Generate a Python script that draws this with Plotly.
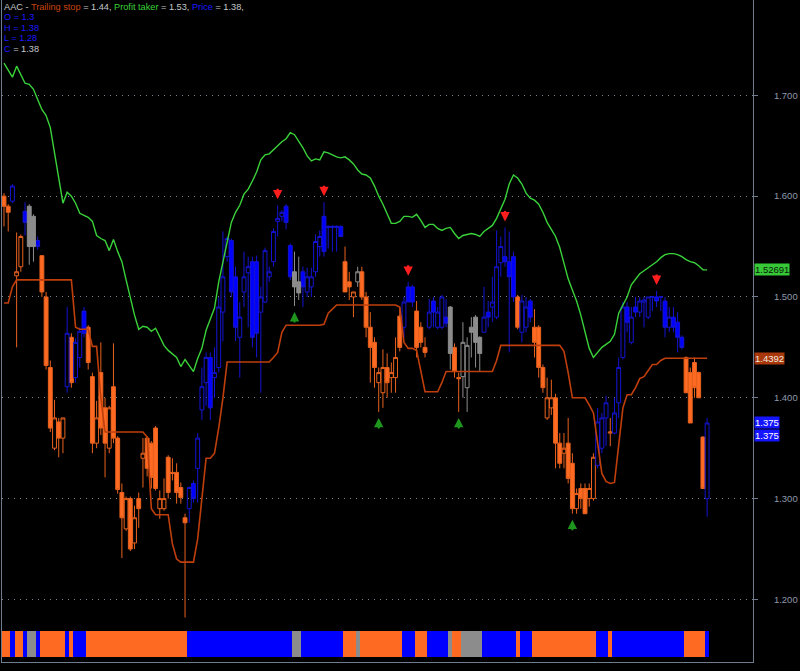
import plotly.graph_objects as go

# ---------------- data ----------------
open_ = [1.600, 1.590, 1.595, 1.521, 1.530, 1.585, 1.590, 1.580, 1.556, 1.541,
         1.500, 1.430, 1.350, 1.376, 1.360, 1.411, 1.460, 1.420, 1.440, 1.486,
         1.470, 1.421, 1.355, 1.425, 1.390, 1.350, 1.411, 1.360, 1.306, 1.270,
         1.300, 1.256, 1.300, 1.340, 1.360, 1.355, 1.370, 1.290, 1.290, 1.341,
         1.326, 1.326, 1.311, 1.281, 1.290, 1.315, 1.330, 1.388, 1.415, 1.440,
         1.420, 1.430, 1.485, 1.540, 1.556, 1.520, 1.460, 1.505, 1.524, 1.535,
         1.535, 1.485, 1.495, 1.520, 1.535, 1.575, 1.580, 1.590, 1.551, 1.525,
         1.515, 1.525, 1.505, 1.510, 1.525, 1.550, 1.580, 1.569, 1.569, 1.569,
         1.570, 1.535, 1.515, 1.500, 1.515, 1.525, 1.500, 1.470, 1.455, 1.415,
         1.405, 1.430, 1.420, 1.420, 1.481, 1.470, 1.510, 1.510, 1.486, 1.470,
         1.450, 1.470, 1.496, 1.470, 1.470, 1.480, 1.490, 1.450, 1.420, 1.421,
         1.410, 1.470, 1.480, 1.460, 1.465, 1.485, 1.490, 1.480, 1.534, 1.540,
         1.535, 1.540, 1.500, 1.465, 1.470, 1.496, 1.470, 1.470, 1.430, 1.380,
         1.390, 1.400, 1.355, 1.345, 1.355, 1.335, 1.290, 1.310, 1.310, 1.300,
         1.300, 1.333, 1.350, 1.380, 1.365, 1.365, 1.395, 1.440, 1.490, 1.455,
         1.490, 1.485, 1.495, 1.480, 1.500, 1.500, 1.500, 1.496, 1.470, 1.480,
         1.475, 1.460, 1.440, 1.425, 1.435, 1.425, 1.361, 1.300]

high = [1.603, 1.592, 1.612, 1.564, 1.562, 1.594, 1.592, 1.582, 1.560, 1.541,
        1.505, 1.437, 1.398, 1.380, 1.380, 1.490, 1.464, 1.459, 1.470, 1.490,
        1.472, 1.425, 1.397, 1.455, 1.400, 1.392, 1.454, 1.362, 1.315, 1.302,
        1.302, 1.293, 1.306, 1.360, 1.362, 1.357, 1.372, 1.308, 1.320, 1.343,
        1.340, 1.335, 1.316, 1.285, 1.312, 1.318, 1.365, 1.430, 1.445, 1.445,
        1.450, 1.500, 1.565, 1.560, 1.558, 1.530, 1.495, 1.545, 1.540, 1.540,
        1.541, 1.510, 1.549, 1.530, 1.568, 1.591, 1.586, 1.592, 1.553, 1.545,
        1.540, 1.530, 1.529, 1.529, 1.562, 1.566, 1.594, 1.571, 1.571, 1.571,
        1.571, 1.550, 1.525, 1.505, 1.530, 1.530, 1.505, 1.485, 1.460, 1.430,
        1.448, 1.444, 1.435, 1.460, 1.490, 1.500, 1.515, 1.512, 1.496, 1.475,
        1.460, 1.498, 1.500, 1.490, 1.502, 1.498, 1.491, 1.454, 1.425, 1.475,
        1.460, 1.480, 1.482, 1.461, 1.510, 1.496, 1.520, 1.566, 1.560, 1.569,
        1.565, 1.545, 1.502, 1.502, 1.500, 1.498, 1.488, 1.472, 1.433, 1.420,
        1.418, 1.404, 1.365, 1.365, 1.380, 1.345, 1.310, 1.315, 1.315, 1.315,
        1.345, 1.390, 1.385, 1.402, 1.380, 1.400, 1.440, 1.495, 1.495, 1.490,
        1.500, 1.500, 1.500, 1.500, 1.501, 1.506, 1.501, 1.500, 1.490, 1.490,
        1.485, 1.462, 1.441, 1.430, 1.440, 1.426, 1.362, 1.380]

low = [1.570, 1.565, 1.593, 1.450, 1.525, 1.561, 1.532, 1.535, 1.547, 1.500,
       1.428, 1.366, 1.348, 1.341, 1.345, 1.405, 1.410, 1.415, 1.430, 1.460,
       1.428, 1.345, 1.350, 1.363, 1.321, 1.345, 1.355, 1.305, 1.241, 1.268,
       1.248, 1.250, 1.271, 1.311, 1.322, 1.310, 1.308, 1.280, 1.288, 1.300,
       1.318, 1.295, 1.295, 1.182, 1.276, 1.296, 1.296, 1.378, 1.392, 1.378,
       1.400, 1.425, 1.456, 1.535, 1.500, 1.456, 1.420, 1.490, 1.470, 1.450,
       1.440, 1.405, 1.494, 1.515, 1.530, 1.560, 1.575, 1.567, 1.517, 1.491,
       1.497, 1.490, 1.500, 1.500, 1.520, 1.540, 1.540, 1.548, 1.545, 1.545,
       1.560, 1.505, 1.497, 1.480, 1.510, 1.497, 1.460, 1.415, 1.410, 1.386,
       1.390, 1.400, 1.405, 1.405, 1.446, 1.460, 1.495, 1.490, 1.440, 1.450,
       1.440, 1.468, 1.470, 1.468, 1.468, 1.470, 1.428, 1.420, 1.386, 1.400,
       1.386, 1.440, 1.430, 1.426, 1.465, 1.470, 1.475, 1.478, 1.520, 1.530,
       1.445, 1.495, 1.468, 1.455, 1.465, 1.475, 1.440, 1.420, 1.405, 1.378,
       1.383, 1.330, 1.330, 1.330, 1.315, 1.285, 1.285, 1.290, 1.285, 1.292,
       1.298, 1.330, 1.345, 1.352, 1.352, 1.364, 1.380, 1.438, 1.465, 1.453,
       1.480, 1.480, 1.470, 1.478, 1.486, 1.490, 1.486, 1.460, 1.465, 1.465,
       1.445, 1.448, 1.405, 1.375, 1.400, 1.400, 1.310, 1.282]

close = [1.590, 1.584, 1.610, 1.525, 1.560, 1.574, 1.550, 1.550, 1.550, 1.505,
         1.432, 1.370, 1.380, 1.360, 1.380, 1.464, 1.415, 1.455, 1.466, 1.464,
         1.435, 1.355, 1.380, 1.370, 1.355, 1.390, 1.360, 1.309, 1.281, 1.300,
         1.250, 1.281, 1.290, 1.345, 1.330, 1.321, 1.310, 1.300, 1.300, 1.306,
         1.325, 1.306, 1.301, 1.276, 1.311, 1.300, 1.360, 1.411, 1.440, 1.390,
         1.425, 1.490, 1.520, 1.558, 1.505, 1.470, 1.480, 1.520, 1.530, 1.460,
         1.464, 1.500, 1.546, 1.525, 1.565, 1.578, 1.584, 1.574, 1.520, 1.510,
         1.504, 1.510, 1.520, 1.520, 1.555, 1.560, 1.545, 1.570, 1.570, 1.570,
         1.560, 1.505, 1.510, 1.505, 1.525, 1.500, 1.470, 1.450, 1.430, 1.425,
         1.430, 1.415, 1.425, 1.440, 1.450, 1.495, 1.495, 1.495, 1.450, 1.455,
         1.445, 1.485, 1.485, 1.485, 1.500, 1.474, 1.444, 1.426, 1.419, 1.455,
         1.452, 1.465, 1.455, 1.444, 1.480, 1.480, 1.495, 1.530, 1.550, 1.535,
         1.520, 1.500, 1.470, 1.496, 1.490, 1.480, 1.455, 1.430, 1.410, 1.400,
         1.400, 1.355, 1.335, 1.350, 1.320, 1.290, 1.305, 1.300, 1.285, 1.310,
         1.341, 1.376, 1.380, 1.395, 1.366, 1.385, 1.430, 1.490, 1.475, 1.480,
         1.485, 1.496, 1.497, 1.500, 1.500, 1.496, 1.500, 1.470, 1.480, 1.470,
         1.460, 1.450, 1.405, 1.375, 1.410, 1.400, 1.310, 1.375]

trailing_stop = [1.494, 1.494, 1.510, 1.517, 1.517, 1.517, 1.517, 1.517, 1.517, 1.517,
                 1.517, 1.517, 1.517, 1.517, 1.517, 1.517, 1.517, 1.470, 1.468, 1.468,
                 1.468, 1.451, 1.451, 1.400, 1.366, 1.366, 1.366, 1.366, 1.366, 1.366,
                 1.366, 1.366, 1.366, 1.366, 1.361, 1.290, 1.284, 1.284, 1.284, 1.284,
                 1.255, 1.240, 1.237, 1.237, 1.237, 1.237, 1.260, 1.300, 1.340, 1.340,
                 1.345, 1.370, 1.400, 1.4355, 1.4355, 1.4355, 1.4355, 1.4355, 1.4355, 1.4355,
                 1.4355, 1.4355, 1.4355, 1.4355, 1.440, 1.445, 1.465, 1.472, 1.472, 1.472,
                 1.472, 1.472, 1.472, 1.472, 1.472, 1.472, 1.473, 1.484, 1.488, 1.492,
                 1.492, 1.492, 1.492, 1.492, 1.492, 1.492, 1.492, 1.492, 1.492, 1.492,
                 1.492, 1.492, 1.492, 1.492, 1.490, 1.455, 1.449, 1.449, 1.447, 1.428,
                 1.406, 1.406, 1.406, 1.406, 1.415, 1.426, 1.426, 1.426, 1.426, 1.426,
                 1.426, 1.426, 1.426, 1.426, 1.426, 1.426, 1.426, 1.437, 1.452, 1.452,
                 1.452, 1.452, 1.452, 1.452, 1.452, 1.452, 1.452, 1.452, 1.452, 1.452,
                 1.452, 1.452, 1.452, 1.446, 1.425, 1.400, 1.400, 1.400, 1.400, 1.393,
                 1.385, 1.355, 1.325, 1.317, 1.315, 1.316, 1.350, 1.390, 1.403, 1.403,
                 1.410, 1.419, 1.421, 1.427, 1.433, 1.433, 1.437, 1.4392, 1.4392, 1.4392,
                 1.4392, 1.4392, 1.4392, 1.4392, 1.4392, 1.4392, 1.4392, 1.4392]

profit_taker = [1.732, 1.725, 1.718, 1.729, 1.720, 1.712, 1.711, 1.706, 1.696, 1.686,
                1.680, 1.668, 1.643, 1.616, 1.593, 1.604, 1.600, 1.593, 1.583, 1.581,
                1.579, 1.575, 1.561, 1.558, 1.556, 1.546, 1.557, 1.545, 1.535, 1.517,
                1.499, 1.482, 1.468, 1.471, 1.470, 1.466, 1.469, 1.460, 1.452, 1.447,
                1.443, 1.440, 1.431, 1.438, 1.432, 1.426, 1.439, 1.449, 1.467, 1.479,
                1.489, 1.515, 1.535, 1.557, 1.574, 1.584, 1.591, 1.602, 1.607, 1.615,
                1.624, 1.636, 1.641, 1.642, 1.646, 1.651, 1.654, 1.657, 1.663, 1.661,
                1.655, 1.648, 1.640, 1.635, 1.637, 1.636, 1.644, 1.643, 1.641, 1.639,
                1.638, 1.639, 1.636, 1.632, 1.626, 1.622, 1.621, 1.618, 1.610, 1.600,
                1.592, 1.583, 1.573, 1.573, 1.575, 1.580, 1.580, 1.579, 1.582, 1.576,
                1.569, 1.572, 1.572, 1.568, 1.566, 1.568, 1.569, 1.563, 1.558, 1.561,
                1.562, 1.563, 1.562, 1.560, 1.565, 1.568, 1.571, 1.578, 1.588, 1.597,
                1.612, 1.621, 1.618, 1.612, 1.603, 1.598, 1.596, 1.592, 1.584, 1.574,
                1.567, 1.560, 1.549, 1.533, 1.518, 1.507, 1.496, 1.482, 1.466, 1.449,
                1.440, 1.445, 1.450, 1.453, 1.456, 1.463, 1.484, 1.492, 1.500, 1.512,
                1.518, 1.523, 1.526, 1.529, 1.532, 1.535, 1.539, 1.542, 1.543, 1.543,
                1.542, 1.540, 1.537, 1.535, 1.534, 1.531, 1.527, 1.52691]

# regime per bar as run lengths: o = orange (bearish), b = blue (bullish), g = gray (neutral)
state_runs = [("o", 2), ("b", 1), ("o", 2), ("b", 1), ("g", 2), ("b", 1), ("o", 6), ("b", 1),
              ("o", 1), ("b", 3), ("o", 24), ("b", 25), ("g", 2), ("b", 10), ("o", 3), ("g", 1),
              ("o", 10), ("b", 3), ("o", 3), ("b", 5), ("g", 1), ("o", 2), ("g", 5), ("b", 8),
              ("o", 1), ("b", 3), ("o", 15), ("b", 3), ("o", 1), ("b", 17), ("o", 5), ("b", 1)]

sell_signals = [65, 76, 96, 119, 155]
buy_signals = [69, 89, 108, 135]

price_ticks = [1.2, 1.3, 1.4, 1.5, 1.6, 1.7]
ticker = "AAC"

# ---------------- build ----------------
state = [s for s, n in state_runs for _ in range(n)]
idx = list(range(len(close)))

fill_col = {"o": "#ff6a22", "b": "#0000ff", "g": "#8c8c8c"}
line_col = {"o": "#e8621e", "b": "#1414d2", "g": "#8c8c8c"}

fig = go.Figure()

for key in ["o", "b", "g"]:
    sel = [i for i in idx if state[i] == key]
    fig.add_trace(go.Candlestick(
        x=sel,
        open=[open_[i] for i in sel], high=[high[i] for i in sel],
        low=[low[i] for i in sel], close=[close[i] for i in sel],
        increasing=dict(fillcolor="rgba(0,0,0,0)", line=dict(color=line_col[key], width=1)),
        decreasing=dict(fillcolor=fill_col[key], line=dict(color=line_col[key], width=1)),
        whiskerwidth=0, hoverinfo="skip", showlegend=False,
    ))

fig.add_trace(go.Scatter(x=idx, y=trailing_stop, mode="lines",
                         line=dict(color="#bf3f0c", width=1.6), hoverinfo="skip"))
fig.add_trace(go.Scatter(x=idx, y=profit_taker, mode="lines",
                         line=dict(color="#3ad23a", width=1.4), hoverinfo="skip"))

fig.add_trace(go.Bar(x=idx, y=[1] * len(idx), base=0, width=1, yaxis="y2",
                     marker=dict(color=[fill_col[s] for s in state], line=dict(width=0)),
                     hoverinfo="skip"))

annotations = []
for i in sell_signals:
    annotations.append(dict(x=i, y=high[i], xref="x", yref="y", text="", showarrow=True,
                            arrowhead=2, arrowsize=0.85, arrowwidth=2.2, arrowcolor="#ff1e1e",
                            ax=0, ay=-18, standoff=6))
for i in buy_signals:
    annotations.append(dict(x=i, y=low[i], xref="x", yref="y", text="", showarrow=True,
                            arrowhead=2, arrowsize=0.85, arrowwidth=2.2, arrowcolor="#1e961e",
                            ax=0, ay=18, standoff=6))

def short(v):
    s = f"{v:.2f}"
    return s.rstrip("0").rstrip(".") if "." in s else s

gray_txt = "#c4c8cc"
lines = [
    f"{ticker} - <span style='color:#c8440e'>Trailing stop</span> = {trailing_stop[-1]:.2f}, "
    f"<span style='color:#3ad23a'>Profit taker</span> = {profit_taker[-1]:.2f}, "
    f"<span style='color:#1a1aff'>Price</span> = {close[-1]:.2f},",
    f"<span style='color:#1a1aff'>O = {short(open_[-1])}</span>",
    f"<span style='color:#1a1aff'>H = {short(high[-1])}</span>",
    f"<span style='color:#1a1aff'>L = {short(low[-1])}</span>",
    f"<span style='color:#1a1aff'>C</span> = {short(close[-1])}",
]
line_y = [7, 17.5, 28, 38.5, 49]
plot_h = 662
for txt, py in zip(lines, line_y):
    annotations.append(dict(x=0, y=1 - py / plot_h, xref="paper", yref="paper", text=txt,
                            showarrow=False, xanchor="left", yanchor="middle",
                            font=dict(family="Liberation Sans, Arial", size=9.2, color=gray_txt)))

lab_font = "Liberation Sans, Arial"
annotations.append(dict(x=1, y=profit_taker[-1], xref="paper", yref="y", xanchor="left",
                        xshift=1, text=f"{profit_taker[-1]:.5f}", showarrow=False,
                        bgcolor="#36c836", borderpad=0,
                        font=dict(family=lab_font, size=9.5, color="#0a1a0a")))
annotations.append(dict(x=1, y=trailing_stop[-1], xref="paper", yref="y", xanchor="left",
                        xshift=1, text=f"{trailing_stop[-1]:.4f}", showarrow=False,
                        bgcolor="#a8380a", borderpad=0,
                        font=dict(family=lab_font, size=9.5, color="#f4e8e0")))
for k, shift in enumerate([0, -13]):
    annotations.append(dict(x=1, y=close[-1], xref="paper", yref="y", xanchor="left",
                            xshift=1, yshift=shift, text=f"{close[-1]:.3f}", showarrow=False,
                            bgcolor="#1414ff", borderpad=0,
                            font=dict(family=lab_font, size=9.5, color="#ffffff")))

axis_col = "#6e7c8e"
fig.update_layout(
    width=800, height=671,
    paper_bgcolor="#000000", plot_bgcolor="#000000",
    margin=dict(l=2, r=47, t=0, b=9),
    showlegend=False,
    boxgap=0.08, boxgroupgap=0,
    bargap=0,
    xaxis=dict(range=[-0.475, 177.9], showgrid=False, zeroline=False, showticklabels=False,
               showline=True, linecolor=axis_col, linewidth=1, ticks="",
               rangeslider=dict(visible=False), fixedrange=True),
    yaxis=dict(side="right", range=[1.1379, 1.7946], tickvals=price_ticks,
               ticktext=[f"{v:.3f}" for v in price_ticks],
               showgrid=True, gridcolor="#7a8490", griddash="1px,5px", gridwidth=1,
               zeroline=False, showline=True, mirror=True, linecolor=axis_col, linewidth=1,
               ticks="outside", ticklen=4, tickcolor=axis_col, ticklabelstandoff=14,
               tickfont=dict(family="Liberation Sans, Arial", size=9.5, color="#8e9aac")),
    yaxis2=dict(domain=[0.00755, 0.0468], range=[0, 1], visible=False, anchor="x",
                fixedrange=True),
    annotations=annotations,
)

fig.write_html(
    "out.html",
    config={"displayModeBar": False},
    post_script="document.body.style.margin='0px';document.body.style.padding='0px';"
                "document.body.style.background='#000';document.body.style.overflow='hidden';",
)
